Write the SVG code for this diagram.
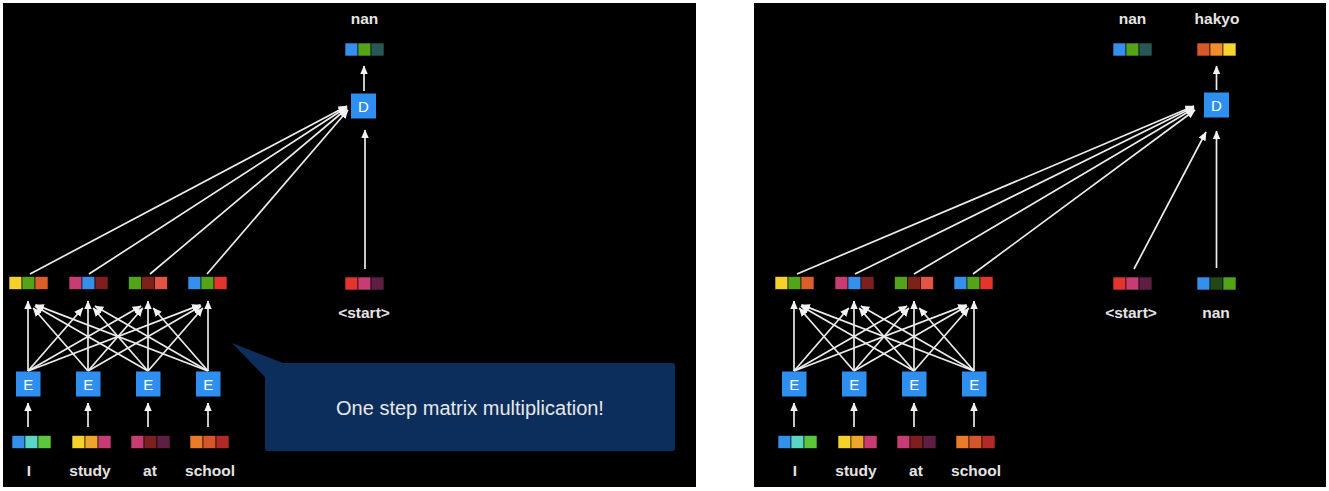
<svg xmlns="http://www.w3.org/2000/svg" width="1329" height="491" viewBox="0 0 1329 491">
<defs>
<marker id="ah" viewBox="0 0 8 7" markerWidth="9" markerHeight="8" refX="7.5" refY="3.5" orient="auto" markerUnits="userSpaceOnUse">
<path d="M0,0 L8,3.5 L0,7 z" fill="#f2f2f2"/>
</marker>
<style>
.panel{fill:#000}
.c line{stroke:#ececec;stroke-width:1.7;marker-end:url(#ah)}
.box{fill:#2e8ff0}
.bl{font-family:"Liberation Sans",Arial,sans-serif;font-size:15px;fill:#fff;text-anchor:middle}
.lbl{font-family:"Liberation Sans",Arial,sans-serif;font-size:15.5px;font-weight:bold;fill:#e4e4e4;text-anchor:middle}
.cal{font-family:"Liberation Sans",Arial,sans-serif;font-size:20px;fill:#e8e8e8;text-anchor:middle}
rect.cell{stroke:#000;stroke-width:0.6}
</style>
</defs>
<rect width="1329" height="491" fill="#fff"/>
<rect class="panel" x="3" y="3" width="693" height="484"/>
<rect class="panel" x="754" y="3" width="572" height="484"/>

<!-- LEFT PANEL -->
<g id="L-conn" class="c">
<line x1="28" y1="427" x2="28" y2="403"/>
<line x1="88" y1="427" x2="88" y2="403"/>
<line x1="148" y1="427" x2="148" y2="403"/>
<line x1="208" y1="427" x2="208" y2="403"/>
<line x1="28" y1="371" x2="28" y2="301"/>
<line x1="88" y1="371" x2="88" y2="301"/>
<line x1="148" y1="371" x2="148" y2="301"/>
<line x1="208" y1="371" x2="208" y2="301"/>
<line x1="28" y1="371" x2="82.8" y2="308"/>
<line x1="28" y1="371" x2="141.1" y2="306"/>
<line x1="28" y1="371" x2="200.5" y2="304.9"/>
<line x1="88" y1="371" x2="33.2" y2="308"/>
<line x1="88" y1="371" x2="142.8" y2="308"/>
<line x1="88" y1="371" x2="201.1" y2="306"/>
<line x1="148" y1="371" x2="34.9" y2="306"/>
<line x1="148" y1="371" x2="93.2" y2="308"/>
<line x1="148" y1="371" x2="202.8" y2="308"/>
<line x1="208" y1="371" x2="35.5" y2="304.9"/>
<line x1="208" y1="371" x2="94.9" y2="306"/>
<line x1="208" y1="371" x2="153.2" y2="308"/>
<line x1="30" y1="274" x2="347" y2="106"/>
<line x1="89" y1="274" x2="347" y2="107"/>
<line x1="150" y1="274" x2="347" y2="108.5"/>
<line x1="207" y1="274" x2="348" y2="110"/>
<line x1="365" y1="269" x2="365" y2="130"/>
<line x1="364" y1="91" x2="364" y2="66"/>
</g>

<g id="L-in-I"><rect class="cell" x="12" y="435.5" width="13" height="13" fill="#3590ec"/><rect class="cell" x="25" y="435.5" width="13" height="13" fill="#5ad6c4"/><rect class="cell" x="38" y="435.5" width="13" height="13" fill="#5cc63c"/><text class="lbl" x="29" y="476">I</text></g>
<g id="L-in-study"><rect class="cell" x="72" y="435.5" width="13" height="13" fill="#f4d22a"/><rect class="cell" x="85" y="435.5" width="13" height="13" fill="#eea52c"/><rect class="cell" x="98" y="435.5" width="13" height="13" fill="#c83c76"/><text class="lbl" x="90" y="476">study</text></g>
<g id="L-in-at"><rect class="cell" x="131" y="435.5" width="13" height="13" fill="#c83c76"/><rect class="cell" x="144" y="435.5" width="13" height="13" fill="#7c1f1e"/><rect class="cell" x="157" y="435.5" width="13" height="13" fill="#5e1f44"/><text class="lbl" x="150" y="476">at</text></g>
<g id="L-in-school"><rect class="cell" x="190" y="435.5" width="13" height="13" fill="#e97b2a"/><rect class="cell" x="203" y="435.5" width="13" height="13" fill="#d6562b"/><rect class="cell" x="216" y="435.5" width="13" height="13" fill="#b02a28"/><text class="lbl" x="210" y="476">school</text></g>

<g id="L-E1"><rect class="box" x="16" y="371.5" width="24.5" height="25"/><text class="bl" x="28.2" y="389.5">E</text></g>
<g id="L-E2"><rect class="box" x="76" y="371.5" width="24.5" height="25"/><text class="bl" x="88.2" y="389.5">E</text></g>
<g id="L-E3"><rect class="box" x="136" y="371.5" width="24.5" height="25"/><text class="bl" x="148.2" y="389.5">E</text></g>
<g id="L-E4"><rect class="box" x="196" y="371.5" width="24.5" height="25"/><text class="bl" x="208.2" y="389.5">E</text></g>

<g id="L-h1"><rect class="cell" x="9" y="276.5" width="13" height="13" fill="#f4d22a"/><rect class="cell" x="22" y="276.5" width="13" height="13" fill="#54a41a"/><rect class="cell" x="35" y="276.5" width="13" height="13" fill="#da5f2a"/></g>
<g id="L-h2"><rect class="cell" x="69" y="276.5" width="13" height="13" fill="#c83c76"/><rect class="cell" x="82" y="276.5" width="13" height="13" fill="#3590ec"/><rect class="cell" x="95" y="276.5" width="13" height="13" fill="#7c1f1e"/></g>
<g id="L-h3"><rect class="cell" x="128.5" y="276.5" width="13" height="13" fill="#54a41a"/><rect class="cell" x="141.5" y="276.5" width="13" height="13" fill="#7c2219"/><rect class="cell" x="154.5" y="276.5" width="13" height="13" fill="#e35444"/></g>
<g id="L-h4"><rect class="cell" x="188" y="276.5" width="13" height="13" fill="#3590ec"/><rect class="cell" x="201" y="276.5" width="13" height="13" fill="#54a41a"/><rect class="cell" x="214" y="276.5" width="13" height="13" fill="#e3352d"/></g>

<g id="L-start"><rect class="cell" x="345" y="277" width="13" height="13" fill="#e3352d"/><rect class="cell" x="358" y="277" width="13" height="13" fill="#c83c76"/><rect class="cell" x="371" y="277" width="13" height="13" fill="#5e1f44"/><text class="lbl" x="364" y="318">&lt;start&gt;</text></g>
<g id="L-D"><rect class="box" x="351" y="93.5" width="25" height="25"/><text class="bl" x="363.5" y="111.5">D</text></g>
<g id="L-out-nan"><rect class="cell" x="345" y="43" width="13" height="13" fill="#3590ec"/><rect class="cell" x="358" y="43" width="13" height="13" fill="#54a41a"/><rect class="cell" x="371" y="43" width="13" height="13" fill="#285856"/><text class="lbl" x="364.5" y="24">nan</text></g>

<g id="callout"><path d="M232,343 L283,363 L672,363 Q675,363 675,366 L675,448 Q675,451 672,451 L268,451 Q265,451 265,448 L265,377 Z" fill="#0c2e5c"/><text class="cal" x="470" y="415">One step matrix multiplication!</text></g>

<!-- RIGHT PANEL -->
<g id="R-enc" transform="translate(766,0)">
<g id="R-conn-enc" class="c">
<line x1="28" y1="427" x2="28" y2="403"/>
<line x1="88" y1="427" x2="88" y2="403"/>
<line x1="148" y1="427" x2="148" y2="403"/>
<line x1="208" y1="427" x2="208" y2="403"/>
<line x1="28" y1="371" x2="28" y2="301"/>
<line x1="88" y1="371" x2="88" y2="301"/>
<line x1="148" y1="371" x2="148" y2="301"/>
<line x1="208" y1="371" x2="208" y2="301"/>
<line x1="28" y1="371" x2="82.8" y2="308"/>
<line x1="28" y1="371" x2="141.1" y2="306"/>
<line x1="28" y1="371" x2="200.5" y2="304.9"/>
<line x1="88" y1="371" x2="33.2" y2="308"/>
<line x1="88" y1="371" x2="142.8" y2="308"/>
<line x1="88" y1="371" x2="201.1" y2="306"/>
<line x1="148" y1="371" x2="34.9" y2="306"/>
<line x1="148" y1="371" x2="93.2" y2="308"/>
<line x1="148" y1="371" x2="202.8" y2="308"/>
<line x1="208" y1="371" x2="35.5" y2="304.9"/>
<line x1="208" y1="371" x2="94.9" y2="306"/>
<line x1="208" y1="371" x2="153.2" y2="308"/>
</g>
<g id="R-in-I"><rect class="cell" x="12" y="435.5" width="13" height="13" fill="#3590ec"/><rect class="cell" x="25" y="435.5" width="13" height="13" fill="#5ad6c4"/><rect class="cell" x="38" y="435.5" width="13" height="13" fill="#5cc63c"/><text class="lbl" x="29" y="476">I</text></g>
<g id="R-in-study"><rect class="cell" x="72" y="435.5" width="13" height="13" fill="#f4d22a"/><rect class="cell" x="85" y="435.5" width="13" height="13" fill="#eea52c"/><rect class="cell" x="98" y="435.5" width="13" height="13" fill="#c83c76"/><text class="lbl" x="90" y="476">study</text></g>
<g id="R-in-at"><rect class="cell" x="131" y="435.5" width="13" height="13" fill="#c83c76"/><rect class="cell" x="144" y="435.5" width="13" height="13" fill="#7c1f1e"/><rect class="cell" x="157" y="435.5" width="13" height="13" fill="#5e1f44"/><text class="lbl" x="150" y="476">at</text></g>
<g id="R-in-school"><rect class="cell" x="190" y="435.5" width="13" height="13" fill="#e97b2a"/><rect class="cell" x="203" y="435.5" width="13" height="13" fill="#d6562b"/><rect class="cell" x="216" y="435.5" width="13" height="13" fill="#b02a28"/><text class="lbl" x="210" y="476">school</text></g>
<g id="R-E1"><rect class="box" x="16" y="371.5" width="24.5" height="25"/><text class="bl" x="28.2" y="389.5">E</text></g>
<g id="R-E2"><rect class="box" x="76" y="371.5" width="24.5" height="25"/><text class="bl" x="88.2" y="389.5">E</text></g>
<g id="R-E3"><rect class="box" x="136" y="371.5" width="24.5" height="25"/><text class="bl" x="148.2" y="389.5">E</text></g>
<g id="R-E4"><rect class="box" x="196" y="371.5" width="24.5" height="25"/><text class="bl" x="208.2" y="389.5">E</text></g>
<g id="R-h1"><rect class="cell" x="9" y="276.5" width="13" height="13" fill="#f4d22a"/><rect class="cell" x="22" y="276.5" width="13" height="13" fill="#54a41a"/><rect class="cell" x="35" y="276.5" width="13" height="13" fill="#da5f2a"/></g>
<g id="R-h2"><rect class="cell" x="69" y="276.5" width="13" height="13" fill="#c83c76"/><rect class="cell" x="82" y="276.5" width="13" height="13" fill="#3590ec"/><rect class="cell" x="95" y="276.5" width="13" height="13" fill="#7c1f1e"/></g>
<g id="R-h3"><rect class="cell" x="128.5" y="276.5" width="13" height="13" fill="#54a41a"/><rect class="cell" x="141.5" y="276.5" width="13" height="13" fill="#7c2219"/><rect class="cell" x="154.5" y="276.5" width="13" height="13" fill="#e35444"/></g>
<g id="R-h4"><rect class="cell" x="188" y="276.5" width="13" height="13" fill="#3590ec"/><rect class="cell" x="201" y="276.5" width="13" height="13" fill="#54a41a"/><rect class="cell" x="214" y="276.5" width="13" height="13" fill="#e3352d"/></g>
</g>

<g id="R-conn" class="c">
<line x1="797" y1="274" x2="1194" y2="106"/>
<line x1="855" y1="274" x2="1194" y2="107"/>
<line x1="914" y1="274" x2="1194" y2="108.5"/>
<line x1="973" y1="274" x2="1195" y2="110"/>
<line x1="1134" y1="269" x2="1206" y2="132"/>
<line x1="1216.5" y1="268" x2="1216.5" y2="131"/>
<line x1="1216.5" y1="90" x2="1216.5" y2="66"/>
</g>
<g id="R-start"><rect class="cell" x="1113" y="277" width="13" height="13" fill="#e3352d"/><rect class="cell" x="1126" y="277" width="13" height="13" fill="#c83c76"/><rect class="cell" x="1139" y="277" width="13" height="13" fill="#5e1f44"/><text class="lbl" x="1131" y="318">&lt;start&gt;</text></g>
<g id="R-prev-nan"><rect class="cell" x="1197" y="277" width="13" height="13" fill="#3590ec"/><rect class="cell" x="1210" y="277" width="13" height="13" fill="#234a16"/><rect class="cell" x="1223" y="277" width="13" height="13" fill="#54a41a"/><text class="lbl" x="1216" y="318">nan</text></g>
<g id="R-D"><rect class="box" x="1204" y="92.5" width="25" height="25"/><text class="bl" x="1216.5" y="110.5">D</text></g>
<g id="R-out-nan"><rect class="cell" x="1113" y="43" width="13" height="13" fill="#3590ec"/><rect class="cell" x="1126" y="43" width="13" height="13" fill="#54a41a"/><rect class="cell" x="1139" y="43" width="13" height="13" fill="#285856"/><text class="lbl" x="1132.5" y="24">nan</text></g>
<g id="R-out-hakyo"><rect class="cell" x="1197" y="43" width="13" height="13" fill="#d8582a"/><rect class="cell" x="1210" y="43" width="13" height="13" fill="#ef8c2c"/><rect class="cell" x="1223" y="43" width="13" height="13" fill="#f6d52c"/><text class="lbl" x="1217" y="24">hakyo</text></g>
</svg>
